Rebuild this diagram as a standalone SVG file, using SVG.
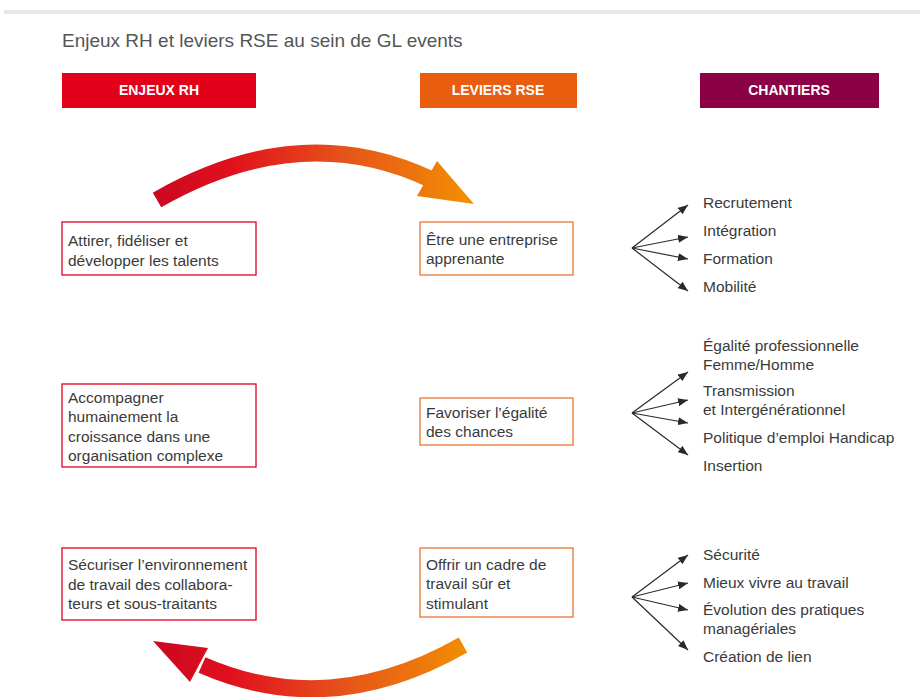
<svg xmlns="http://www.w3.org/2000/svg" width="920" height="697" viewBox="0 0 920 697">
<defs>
<style>
.t{font-family:"Liberation Sans",Arial,sans-serif;font-size:15.5px;fill:#3a3a3a}
.hd{font-family:"Liberation Sans",Arial,sans-serif;font-size:14px;font-weight:bold;fill:#fff;text-anchor:middle}
.rb{fill:#fff;stroke:#e2001a;stroke-width:1.3}
.ob{fill:#fff;stroke:#ec7631;stroke-width:1.3}
.fan{stroke:#2a2a2a;stroke-width:1.2;fill:none;marker-end:url(#ah)}
</style>
<marker id="ah" viewBox="0 0 10 8" refX="10" refY="4" markerWidth="10" markerHeight="8" markerUnits="userSpaceOnUse" orient="auto">
<path d="M0,0 L10,4 L0,8 Z" fill="#2a2a2a"/>
</marker>
<linearGradient id="g" gradientUnits="userSpaceOnUse" x1="150" y1="0" x2="476" y2="0">
<stop offset="0" stop-color="#c8081f"/>
<stop offset="0.25" stop-color="#e1101d"/>
<stop offset="0.6" stop-color="#e6541a"/>
<stop offset="1" stop-color="#f29200"/>
</linearGradient>
</defs>
<rect x="0" y="0" width="920" height="697" fill="#fff"/>
<rect x="4" y="10" width="916" height="4" fill="#e8e8e8"/>
<text x="62" y="47" style="font-family:'Liberation Sans',Arial,sans-serif;font-size:19px;fill:#555">Enjeux RH et leviers RSE au sein de GL events</text>

<g id="h-enjeux"><rect x="62" y="73" width="194" height="35" fill="#e2001a"/><text class="hd" x="159" y="95">ENJEUX RH</text></g>
<g id="h-leviers"><rect x="420" y="73" width="157" height="35" fill="#e95d0f"/><text class="hd" x="498" y="95">LEVIERS RSE</text></g>
<g id="h-chantiers"><rect x="700" y="73" width="179" height="35" fill="#8c0046"/><text class="hd" x="789" y="95">CHANTIERS</text></g>

<g id="arrow-top">
<path d="M157,200 Q300,118 430,179" fill="none" stroke="url(#g)" stroke-width="17"/>
<polygon points="437,161 474,204 417,196" fill="url(#g)"/>
</g>
<g id="arrow-bottom">
<path d="M463,645 Q330,721 202,665" fill="none" stroke="url(#g)" stroke-width="17"/>
<polygon points="208,648 153,641 190,682" fill="url(#g)"/>
</g>

<g id="e1"><rect class="rb" x="62" y="222" width="194" height="53"/>
<text class="t" x="68" y="246">Attirer, fidéliser et</text><text class="t" x="68" y="266">développer les talents</text></g>
<g id="l1"><rect class="ob" x="420" y="222" width="153" height="53"/>
<text class="t" x="426" y="245">Être une entreprise</text><text class="t" x="426" y="264">apprenante</text></g>

<g id="e2"><rect class="rb" x="62" y="384" width="194" height="83"/>
<text class="t" x="68" y="403">Accompagner</text><text class="t" x="68" y="422">humainement la</text><text class="t" x="68" y="442">croissance dans une</text><text class="t" x="68" y="461">organisation complexe</text></g>
<g id="l2"><rect class="ob" x="420" y="398" width="153" height="47"/>
<text class="t" x="426" y="418">Favoriser l’égalité</text><text class="t" x="426" y="437">des chances</text></g>

<g id="e3"><rect class="rb" x="62" y="548" width="194" height="72"/>
<text class="t" x="68" y="570">Sécuriser l’environnement</text><text class="t" x="68" y="590">de travail des collabora-</text><text class="t" x="68" y="609">teurs et sous-traitants</text></g>
<g id="l3"><rect class="ob" x="420" y="548" width="153" height="69"/>
<text class="t" x="426" y="570">Offrir un cadre de</text><text class="t" x="426" y="589">travail sûr et</text><text class="t" x="426" y="609">stimulant</text></g>

<g id="c1">
<text class="t" x="703" y="208">Recrutement</text>
<text class="t" x="703" y="236">Intégration</text>
<text class="t" x="703" y="264">Formation</text>
<text class="t" x="703" y="292">Mobilité</text>
</g>
<g id="c2">
<text class="t" x="703" y="351">Égalité professionnelle</text>
<text class="t" x="703" y="370">Femme/Homme</text>
<text class="t" x="703" y="396">Transmission</text>
<text class="t" x="703" y="415">et Intergénérationnel</text>
<text class="t" x="703" y="443">Politique d’emploi Handicap</text>
<text class="t" x="703" y="471">Insertion</text>
</g>
<g id="c3">
<text class="t" x="703" y="560">Sécurité</text>
<text class="t" x="703" y="588">Mieux vivre au travail</text>
<text class="t" x="703" y="615">Évolution des pratiques</text>
<text class="t" x="703" y="634">managériales</text>
<text class="t" x="703" y="662">Création de lien</text>
</g>

<g id="connectors">
<path class="fan" d="M632,248 L688,205"/>
<path class="fan" d="M632,248 L688,237"/>
<path class="fan" d="M632,248 L688,259"/>
<path class="fan" d="M632,248 L688,291"/>
<path class="fan" d="M632,413 L688,372"/>
<path class="fan" d="M632,413 L688,400"/>
<path class="fan" d="M632,413 L688,423"/>
<path class="fan" d="M632,413 L688,455"/>
<path class="fan" d="M632,597 L688,555"/>
<path class="fan" d="M632,597 L688,583"/>
<path class="fan" d="M632,597 L688,610"/>
<path class="fan" d="M632,597 L688,650"/>
</g>
</svg>
